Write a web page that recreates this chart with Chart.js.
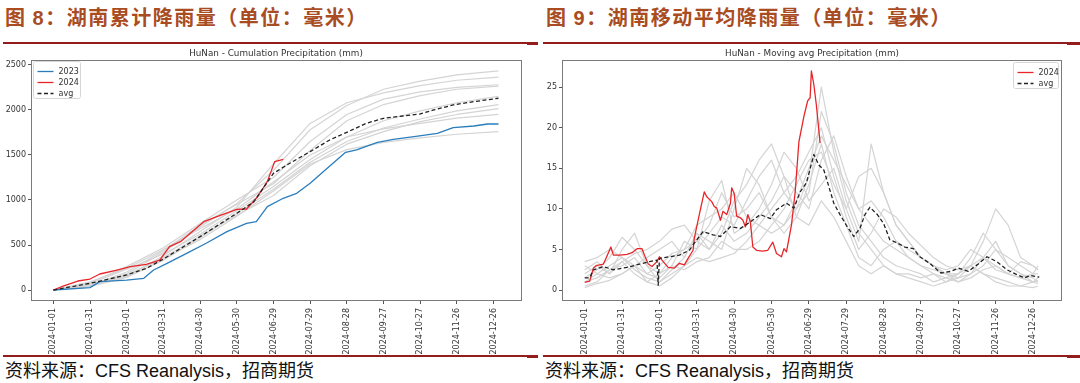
<!DOCTYPE html>
<html><head><meta charset="utf-8">
<script src="https://cdn.jsdelivr.net/npm/chart.js@4.4.1/dist/chart.umd.min.js"></script>
<style>
html,body{margin:0;padding:0;background:#fff;width:1080px;height:383px;overflow:hidden;}
body{position:relative;}
.hdr{position:absolute;top:3px;font-family:"Noto Sans CJK SC";font-weight:bold;font-size:20px;letter-spacing:1.5px;color:#a94c22;line-height:28px;white-space:nowrap;}
.hdr .n{font-family:"Liberation Sans",Arial,sans-serif;font-weight:bold;}
.rule{position:absolute;background:#931d1d;}
.src{position:absolute;top:357px;font-size:18px;line-height:24px;color:#111;font-family:"Noto Sans CJK SC";white-space:nowrap;}
.src .l{font-family:"Liberation Sans",Arial,sans-serif;}
.box{position:absolute;top:44px;width:540px;height:312px;}
.ct{position:absolute;top:47px;height:12px;line-height:12px;font-family:"DejaVu Sans";font-size:8.8px;color:#333;white-space:nowrap;transform:translateX(-50%);}
</style></head>
<body>
<div class="hdr" style="left:5px">图 <span class="n">8</span>：湖南累计降雨量（单位：毫米）</div>
<div class="hdr" style="left:546px">图 <span class="n">9</span>：湖南移动平均降雨量（单位：毫米）</div>
<div class="rule" style="left:3px;top:42px;width:535px;height:2px"></div>
<div class="rule" style="left:527px;top:43px;width:11px;height:2px"></div>
<div class="rule" style="left:543px;top:42px;width:537px;height:2px"></div>
<div class="rule" style="left:1067px;top:43px;width:13px;height:2px"></div>
<div class="rule" style="left:3px;top:355px;width:535px;height:2px"></div>
<div class="rule" style="left:527px;top:356px;width:11px;height:2px"></div>
<div class="rule" style="left:543px;top:355px;width:537px;height:2px"></div>
<div class="rule" style="left:1067px;top:356px;width:13px;height:2px"></div>
<div class="box" style="left:0"><canvas id="c1" width="540" height="312"></canvas></div>
<div class="box" style="left:540px"><canvas id="c2" width="540" height="312"></canvas></div>
<div class="ct" style="left:276px">HuNan - Cumulation Precipitation (mm)</div>
<div class="ct" style="left:812px">HuNan - Moving avg Precipitation (mm)</div>
<div class="src" style="left:5px">资料来源：<span class="l">CFS Reanalysis</span>，招商期货</div>
<div class="src" style="left:545px">资料来源：<span class="l">CFS Reanalysis</span>，招商期货</div>
<script>
// ---- shared axis ----
const xTickDays = [0,30,60,90,120,150,180,210,240,270,300,330,360];
const xTickLabels = ['2024-01-01','2024-01-31','2024-03-01','2024-03-31','2024-04-30','2024-05-30','2024-06-29','2024-07-29','2024-08-28','2024-09-27','2024-10-27','2024-11-26','2024-12-26'];
const cumTicks = [0,500,1000,1500,2000,2500];
const mvTicks = [0,5,10,15,20,25];

// ---- cumulative chart (mm) ----
const cumDays = [0,30,60,90,120,150,180,210,240,270,300,330,364];
const cumHist1 = [0,60,180,420,700,960,1330,1780,2050,2230,2320,2390,2435];
const cumHist2 = [0,45,150,380,650,920,1400,1850,2080,2190,2270,2330,2365];
const cumHist3 = [0,80,260,470,740,1000,1250,1650,1950,2120,2200,2250,2280];
const cumHist4 = [0,50,200,440,720,950,1180,1550,1880,2060,2160,2230,2265];
const cumHist5 = [0,70,230,400,620,880,1150,1450,1700,1880,1990,2080,2150];
const cumHist6 = [0,40,140,330,580,850,1120,1420,1650,1800,1900,1990,2060];
const cumHist7 = [0,55,170,360,600,830,1050,1380,1620,1760,1870,1950,2015];
const cumHist8 = [0,90,240,450,680,900,1200,1500,1700,1790,1850,1910,1950];
const cumHist9 = [0,50,160,350,560,820,1100,1400,1560,1640,1690,1730,1760];
const cum2023Days = [0,30,38,60,74,82,93,109,125,142,158,166,175,188,199,210,224,239,248,265,278,295,314,327,344,355,364];
const cum2023 = [0,26,93,111,130,222,296,407,519,648,741,759,926,1019,1074,1185,1352,1530,1556,1641,1674,1704,1741,1804,1822,1844,1844];
const cum2024Days = [0,8,20,30,38,52,63,76,87,95,104,112,123,136,150,158,166,175,181,188];
const cum2024 = [0,44,100,122,178,222,259,285,333,481,537,630,759,826,896,900,1019,1204,1426,1452];
const cumAvgDays = [0,30,60,76,90,120,150,164,180,191,210,226,240,256,270,286,300,311,327,344,364];
const cumAvg = [0,74,167,240,344,593,852,981,1296,1389,1537,1667,1752,1852,1907,1933,1956,2000,2056,2093,2130];

// ---- moving average chart (mm) ----
const mvDays = [0,10,20,30,40,50,60,70,80,90,100,110,120,130,140,150,160,170,180,190,200,210,220,230,240,250,260,270,280,290,300,310,320,330,340,350,360,364];
const mvHist1 = [2.5,3.5,2,5,7,3,2,4,5,6,8,12,9,10,12,9,8,10,12,22,18,12,8,6,4,3,2.5,2,1,1.5,2,3,4,3,2,1.5,1,1.2];
const mvHist2 = [1,2,3,4,2.5,1.5,1,2,3,5,7,9,8,11,14,16,12,10,14,25,17,11,7,5,3,2,2,1.5,2,1,1.5,2,3,5,3,2,1.5,1];
const mvHist3 = [3,2,1.5,2,3,4,5,6,4,7,5,8,6,7,9,11,14,12,10,16,19,14,10,8,6,5,4,3,2.5,2,1.5,3,6,10,8,4,3,2.5];
const mvHist4 = [0.5,1,2.5,3,4,2,1.5,3,6,5,11,13.5,7,8,10,13,17,15,11,13,15,10,6,18,12,8,6,4,3,2,1,2,4,6,3,2,1,0.8];
const mvHist5 = [1.5,2.5,4,6.5,5,3,1,2.5,4,7,6,5,10,15,13,9,7,9,13,18,12,8,4,3,5,6,5,4,3,2,2,4,7,5,4,3,2,2];
const mvHist6 = [0.3,0.8,1.2,2,3,1,0.5,1.5,3,4,3.5,4,4.5,6,8,10,12,14,17,20,14,9,5,7,10,9,7,5.5,4,3,2.5,3,2,1.5,1,0.5,0.3,0.5];
const mvHist7 = [2,3,2,3.5,4.5,5,6,7.5,8,6,5,7,11,13,16,18,14,9,8,11,9,6,3,2,3,2,1.5,1,0.5,1,2,3,2,1,0.5,0.5,1,1.5];
const mvHist8 = [3.5,4,5,4,3,2,3,4.5,5,8,9,10,12,9,8,7,8,11,15,19,16,13,10,11,9,6,4,3,2,1.5,1,1.5,2.5,3,2,1.5,2,3];
const mvHist9 = [1,1.5,2.5,3.5,2,1,2,3,2.5,3.5,4,6,5,5,6,8,10,13,16,17,13,10,14,15,12,8,6,4,3,2.5,3,5,4,2.5,2,3.5,3,2.5];
const mv2024Days = [0,4,7,9,15,17,21,23,28,34,38,42,46,48,51,54,58,60,63,67,72,76,80,83,87,88,92,96,98,102,104,106,109,111,114,117,118,120,122,125,127,129,131,133,135,138,143,147,151,154,158,160,162,166,169,172,176,179,181,182,184,186,189];
const mv2024 = [0.95,1.1,2.7,3.0,3.2,3.9,5.3,4.3,4.3,4.4,4.6,5.1,5.1,4.3,3.2,2.9,3.5,4.1,3.5,2.8,2.7,3.3,3.1,3.9,4.9,6.4,9.3,12.1,11.5,10.9,10.3,10.1,8.6,9.7,9.3,10.7,12.6,11.9,9.1,8.9,8.6,7.8,9.3,8.4,5.3,4.9,4.8,4.9,5.9,4.5,4.1,5.1,4.7,8.0,12.1,18.3,21.4,23.3,23.7,27.0,25.3,22.8,18.1];
const mvAvgDays = [0,4,7,15,23,34,44,52,58,59,60,68,76,84,90,95,103,109,117,125,133,141,149,154,162,168,173,178,184,188,192,194,200,205,210,216,221,225,229,235,240,245,251,257,264,269,277,286,294,300,308,315,323,331,339,347,353,358,365];
const mvAvg = [1.5,1.5,2.5,2.9,2.5,2.8,3.2,3.5,3.7,0.6,3.9,4.1,4.3,4.9,6.2,7.2,6.8,6.6,7.8,7.6,8.4,9.3,8.8,9.9,10.7,10.1,12.1,13.2,16.7,15.4,14.8,13.8,10.7,9.3,8.0,6.6,7.6,9.3,10.2,9.3,8.2,6.2,5.8,5.3,5.1,4.1,3.3,2.1,2.3,2.7,2.3,3.1,4.1,3.5,2.5,1.9,1.5,1.8,1.6];

function pts(days, vals){ return vals.map((v,i)=>({x:days[i], y:v})); }
function gray(days, vals){ return {label:'', data:pts(days, vals), borderColor:'#d4d4d4', borderWidth:1.2, order:10}; }

const frame = {id:'frame', afterDatasetsDraw(chart){
  const a = chart.chartArea, c = chart.ctx;
  c.save(); c.strokeStyle = '#7a7a7a'; c.lineWidth = 1;
  c.strokeRect(Math.round(a.left)+0.5, Math.round(a.top)+0.5, Math.round(a.right-a.left)-1, Math.round(a.bottom-a.top)-1);
  c.restore();
}};
const legendBox = {id:'legendBox', afterDraw(chart, args, o){
  const items = chart.data.datasets.filter(d => d.inLegend);
  const a = chart.chartArea, c = chart.ctx, rowH = 11;
  const w = o.width, h = items.length*rowH + 4;
  const x = Math.round(o.align === 'right' ? a.right - o.dx - w : a.left + o.dx) + 0.5;
  const y = Math.round(a.top + o.dy) + 0.5;
  c.save();
  c.fillStyle = 'rgba(255,255,255,0.85)'; c.strokeStyle = '#d6d6d6'; c.lineWidth = 1;
  c.beginPath(); c.roundRect(x, y, w, h, 2); c.fill(); c.stroke();
  c.font = '8px "DejaVu Sans"'; c.textBaseline = 'middle'; c.fillStyle = '#333';
  items.forEach((d, i) => {
    const cy = Math.round(y + 9 + i*rowH) + 0.5;
    c.strokeStyle = d.borderColor; c.lineWidth = d.borderWidth;
    c.setLineDash(d.borderDash || []);
    c.beginPath(); c.moveTo(x+4, cy); c.lineTo(x+20, cy); c.stroke();
    c.setLineDash([]);
    c.fillText(d.label, x+25, cy);
  });
  c.restore();
}};

function build(id, datasets, yMin, yMax, yTicks, yWidth, legend){
  const tickFont = {family:'DejaVu Sans', size:8};
  const grid = {drawOnChartArea:false, drawTicks:true, tickLength:3, tickColor:'#555', tickWidth:1};
  return new Chart(document.getElementById(id), {
    type:'line',
    data:{datasets},
    options:{
      responsive:false, animation:false, devicePixelRatio:1,
      layout:{padding:{left:0, right:18, top:16, bottom:0}},
      elements:{point:{radius:0}, line:{tension:0, borderJoinStyle:'round'}},
      plugins:{legend:{display:false}, title:{display:false}, tooltip:{enabled:false}, legendBox:legend},
      scales:{
        x:{type:'linear', min:-18.25, max:383.25,
          afterBuildTicks:s => { s.ticks = xTickDays.map(v => ({value:v})); },
          afterFit:s => { s.height = 55; },
          grid, border:{display:false},
          ticks:{autoSkip:false, maxRotation:90, minRotation:90, padding:4, color:'#333', font:tickFont,
            callback:v => xTickLabels[xTickDays.indexOf(v)]}},
        y:{type:'linear', min:yMin, max:yMax,
          afterBuildTicks:s => { s.ticks = yTicks.map(v => ({value:v})); },
          afterFit:s => { s.width = yWidth; },
          grid, border:{display:false},
          ticks:{padding:2, color:'#333', font:tickFont, callback:v => String(v)}}
      }
    },
    plugins:[frame, legendBox]
  });
}

const cumSets = [
  {label:'avg', inLegend:true, data:pts(cumAvgDays, cumAvg), borderColor:'#222', borderWidth:1.3, borderDash:[4,2.5], order:0},
  {label:'2024', inLegend:true, data:pts(cum2024Days, cum2024), borderColor:'#e8262a', borderWidth:1.3, order:1},
  {label:'2023', inLegend:true, data:pts(cum2023Days, cum2023), borderColor:'#2a7dbd', borderWidth:1.3, order:2},
  gray(cumDays, cumHist1), gray(cumDays, cumHist2), gray(cumDays, cumHist3),
  gray(cumDays, cumHist4), gray(cumDays, cumHist5), gray(cumDays, cumHist6),
  gray(cumDays, cumHist7), gray(cumDays, cumHist8), gray(cumDays, cumHist9)
];
const mvSets = [
  {label:'avg', inLegend:true, data:pts(mvAvgDays, mvAvg), borderColor:'#222', borderWidth:1.3, borderDash:[4,2.5], order:0},
  {label:'2024', inLegend:true, data:pts(mv2024Days, mv2024), borderColor:'#e8262a', borderWidth:1.3, order:1},
  gray(mvDays, mvHist1), gray(mvDays, mvHist2), gray(mvDays, mvHist3),
  gray(mvDays, mvHist4), gray(mvDays, mvHist5), gray(mvDays, mvHist6),
  gray(mvDays, mvHist7), gray(mvDays, mvHist8), gray(mvDays, mvHist9)
];
// legend order follows array order: 2023, 2024, avg / 2024, avg
const cumOrdered = [cumSets[2], cumSets[1], cumSets[0], ...cumSets.slice(3)];
const mvOrdered = [mvSets[1], mvSets[0], ...mvSets.slice(2)];

build('c1', cumOrdered, -122, 2555, cumTicks, 31, {align:'left', dx:2, dy:1, width:47});
build('c2', mvOrdered, -1.35, 28.35, mvTicks, 22, {align:'right', dx:4, dy:2, width:45});
</script>
</body></html>
